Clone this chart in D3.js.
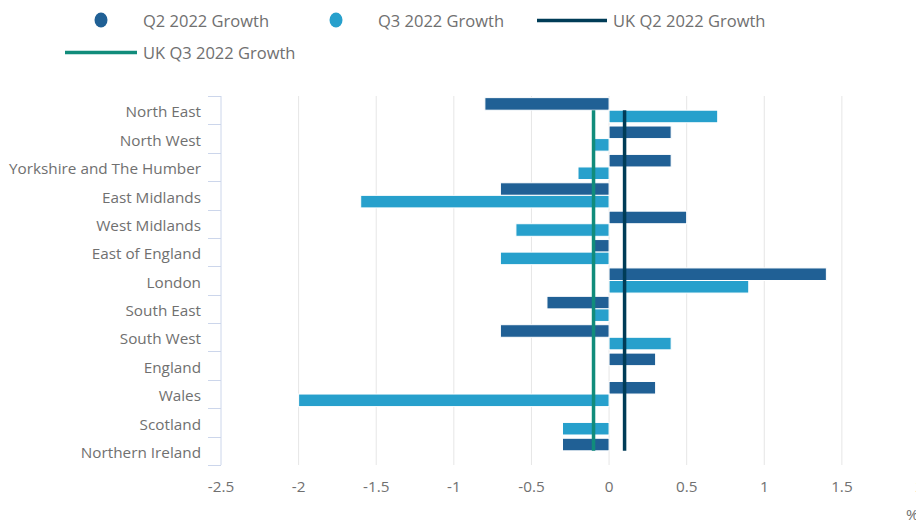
<!DOCTYPE html>
<html>
<head>
<meta charset="utf-8">
<script src="https://cdn.jsdelivr.net/npm/d3@7"></script>
<style>
  html, body { margin: 0; padding: 0; background: #fff; overflow: hidden; }
  svg { display: block; font-family: "Open Sans", sans-serif; }
</style>
</head>
<body>
<svg id="chart" width="916" height="525"></svg>
<script>
const categories = ["North East", "North West", "Yorkshire and The Humber", "East Midlands",
  "West Midlands", "East of England", "London", "South East", "South West", "England",
  "Wales", "Scotland", "Northern Ireland"];
const q2Growth = [-0.8, 0.4, 0.4, -0.7, 0.5, -0.1, 1.4, -0.4, -0.7, 0.3, 0.3, 0.0, -0.3];
const q3Growth = [0.7, -0.1, -0.2, -1.6, -0.6, -0.7, 0.9, -0.1, 0.4, 0.0, -2.0, -0.3, 0.0];
const ukQ2Growth = [0.1, 0.1, 0.1, 0.1, 0.1, 0.1, 0.1, 0.1, 0.1, 0.1, 0.1, 0.1, 0.1];
const ukQ3Growth = [-0.1, -0.1, -0.1, -0.1, -0.1, -0.1, -0.1, -0.1, -0.1, -0.1, -0.1, -0.1, -0.1];
const xTicks = [-2.5, -2, -1.5, -1, -0.5, 0, 0.5, 1, 1.5, 2];
const xTickLabels = ["-2.5", "-2", "-1.5", "-1", "-0.5", "0", "0.5", "1", "1.5", "2"];
const seriesNames = ["Q2 2022 Growth", "Q3 2022 Growth", "UK Q2 2022 Growth", "UK Q3 2022 Growth"];
const colors = { q2: "#206095", q3: "#27a0cc", ukq2: "#003c57", ukq3: "#118c7b" };

const svg = d3.select("#chart");
const textColor = "#707070";

const x = d3.scaleLinear().domain([-2.5, 2]).range([221, 919.5]);
const y = d3.scaleBand().domain(categories).range([96, 465]).padding(0);
const inner = d3.scaleBand().domain(["q2", "q3"]).range([0, y.bandwidth()]).paddingOuter(0.13).paddingInner(0);

// grid lines
svg.append("g").selectAll("line").data(xTicks.filter(t => t > -2.5)).join("line")
  .attr("x1", d => x(d)).attr("x2", d => x(d))
  .attr("y1", 96).attr("y2", 465)
  .attr("stroke", "#e6e6e6").attr("stroke-width", 1);

// category axis
const yAxis = svg.append("g").attr("transform", `translate(${x(-2.5)},0)`);
yAxis.append("line").attr("x1", 0).attr("x2", 0).attr("y1", 96).attr("y2", 465)
  .attr("stroke", "#ccd6eb");
const bounds = categories.map(c => y(c)).concat([y.range()[1]]);
yAxis.selectAll("line.tick").data(bounds).join("line").attr("class", "tick")
  .attr("x1", -13).attr("x2", 0).attr("y1", d => Math.round(d) + 0.5).attr("y2", d => Math.round(d) + 0.5)
  .attr("stroke", "#ccd6eb");
yAxis.selectAll("text").data(categories).join("text")
  .attr("x", -20).attr("y", d => y(d) + y.bandwidth() / 2 + 0.8)
  .attr("dy", "0.42em").attr("text-anchor", "end")
  .attr("font-size", 15.3).attr("fill", textColor).text(d => d);

// x tick labels
svg.append("g").selectAll("text").data(xTicks).join("text")
  .attr("x", d => x(d)).attr("y", 492).attr("text-anchor", "middle")
  .attr("font-size", 15.3).attr("fill", textColor).text((d, i) => xTickLabels[i]);

svg.append("text").attr("x", 906).attr("y", 520).attr("font-size", 15.3)
  .attr("fill", textColor).text("%");

// bars
function drawBars(vals, key) {
  svg.append("g").selectAll("rect").data(vals.map((v, i) => ({ v, c: categories[i] }))).join("rect")
    .attr("x", d => Math.min(x(0), x(d.v)))
    .attr("width", d => Math.abs(x(d.v) - x(0)))
    .attr("y", d => y(d.c) + inner(key))
    .attr("height", inner.bandwidth())
    .attr("fill", colors[key])
    .attr("stroke", "#ffffff").attr("stroke-width", 1)
    .attr("stroke-opacity", d => d.v === 0 ? 0 : 1);
}
drawBars(q2Growth, "q2");
drawBars(q3Growth, "q3");

// UK lines
function drawLine(vals, key) {
  const line = d3.line().x(d => x(d.v)).y(d => y(d.c) + y.bandwidth() / 2);
  svg.append("path").datum(vals.map((v, i) => ({ v, c: categories[i] })))
    .attr("d", line).attr("fill", "none")
    .attr("stroke", colors[key]).attr("stroke-width", 3.5);
}
drawLine(ukQ3Growth, "ukq3");
drawLine(ukQ2Growth, "ukq2");

// legend
const lg = svg.append("g").attr("font-size", 16.5).attr("fill", textColor);
lg.append("ellipse").attr("cx", 101).attr("cy", 20).attr("rx", 6.5).attr("ry", 7.5).attr("fill", colors.q2);
lg.append("text").attr("x", 143).attr("y", 21).attr("dy", "0.36em").attr("fill", textColor).text(seriesNames[0]);
lg.append("ellipse").attr("cx", 336).attr("cy", 20).attr("rx", 6.5).attr("ry", 7.5).attr("fill", colors.q3);
lg.append("text").attr("x", 378).attr("y", 21).attr("dy", "0.36em").attr("fill", textColor).text(seriesNames[1]);
lg.append("line").attr("x1", 537).attr("x2", 607).attr("y1", 20.5).attr("y2", 20.5)
  .attr("stroke", colors.ukq2).attr("stroke-width", 3.5);
lg.append("text").attr("x", 613).attr("y", 21).attr("dy", "0.36em").attr("fill", textColor).text(seriesNames[2]);
lg.append("line").attr("x1", 65).attr("x2", 137).attr("y1", 52.5).attr("y2", 52.5)
  .attr("stroke", colors.ukq3).attr("stroke-width", 3.5);
lg.append("text").attr("x", 143).attr("y", 53).attr("dy", "0.36em").attr("fill", textColor).text(seriesNames[3]);
</script>
</body>
</html>
